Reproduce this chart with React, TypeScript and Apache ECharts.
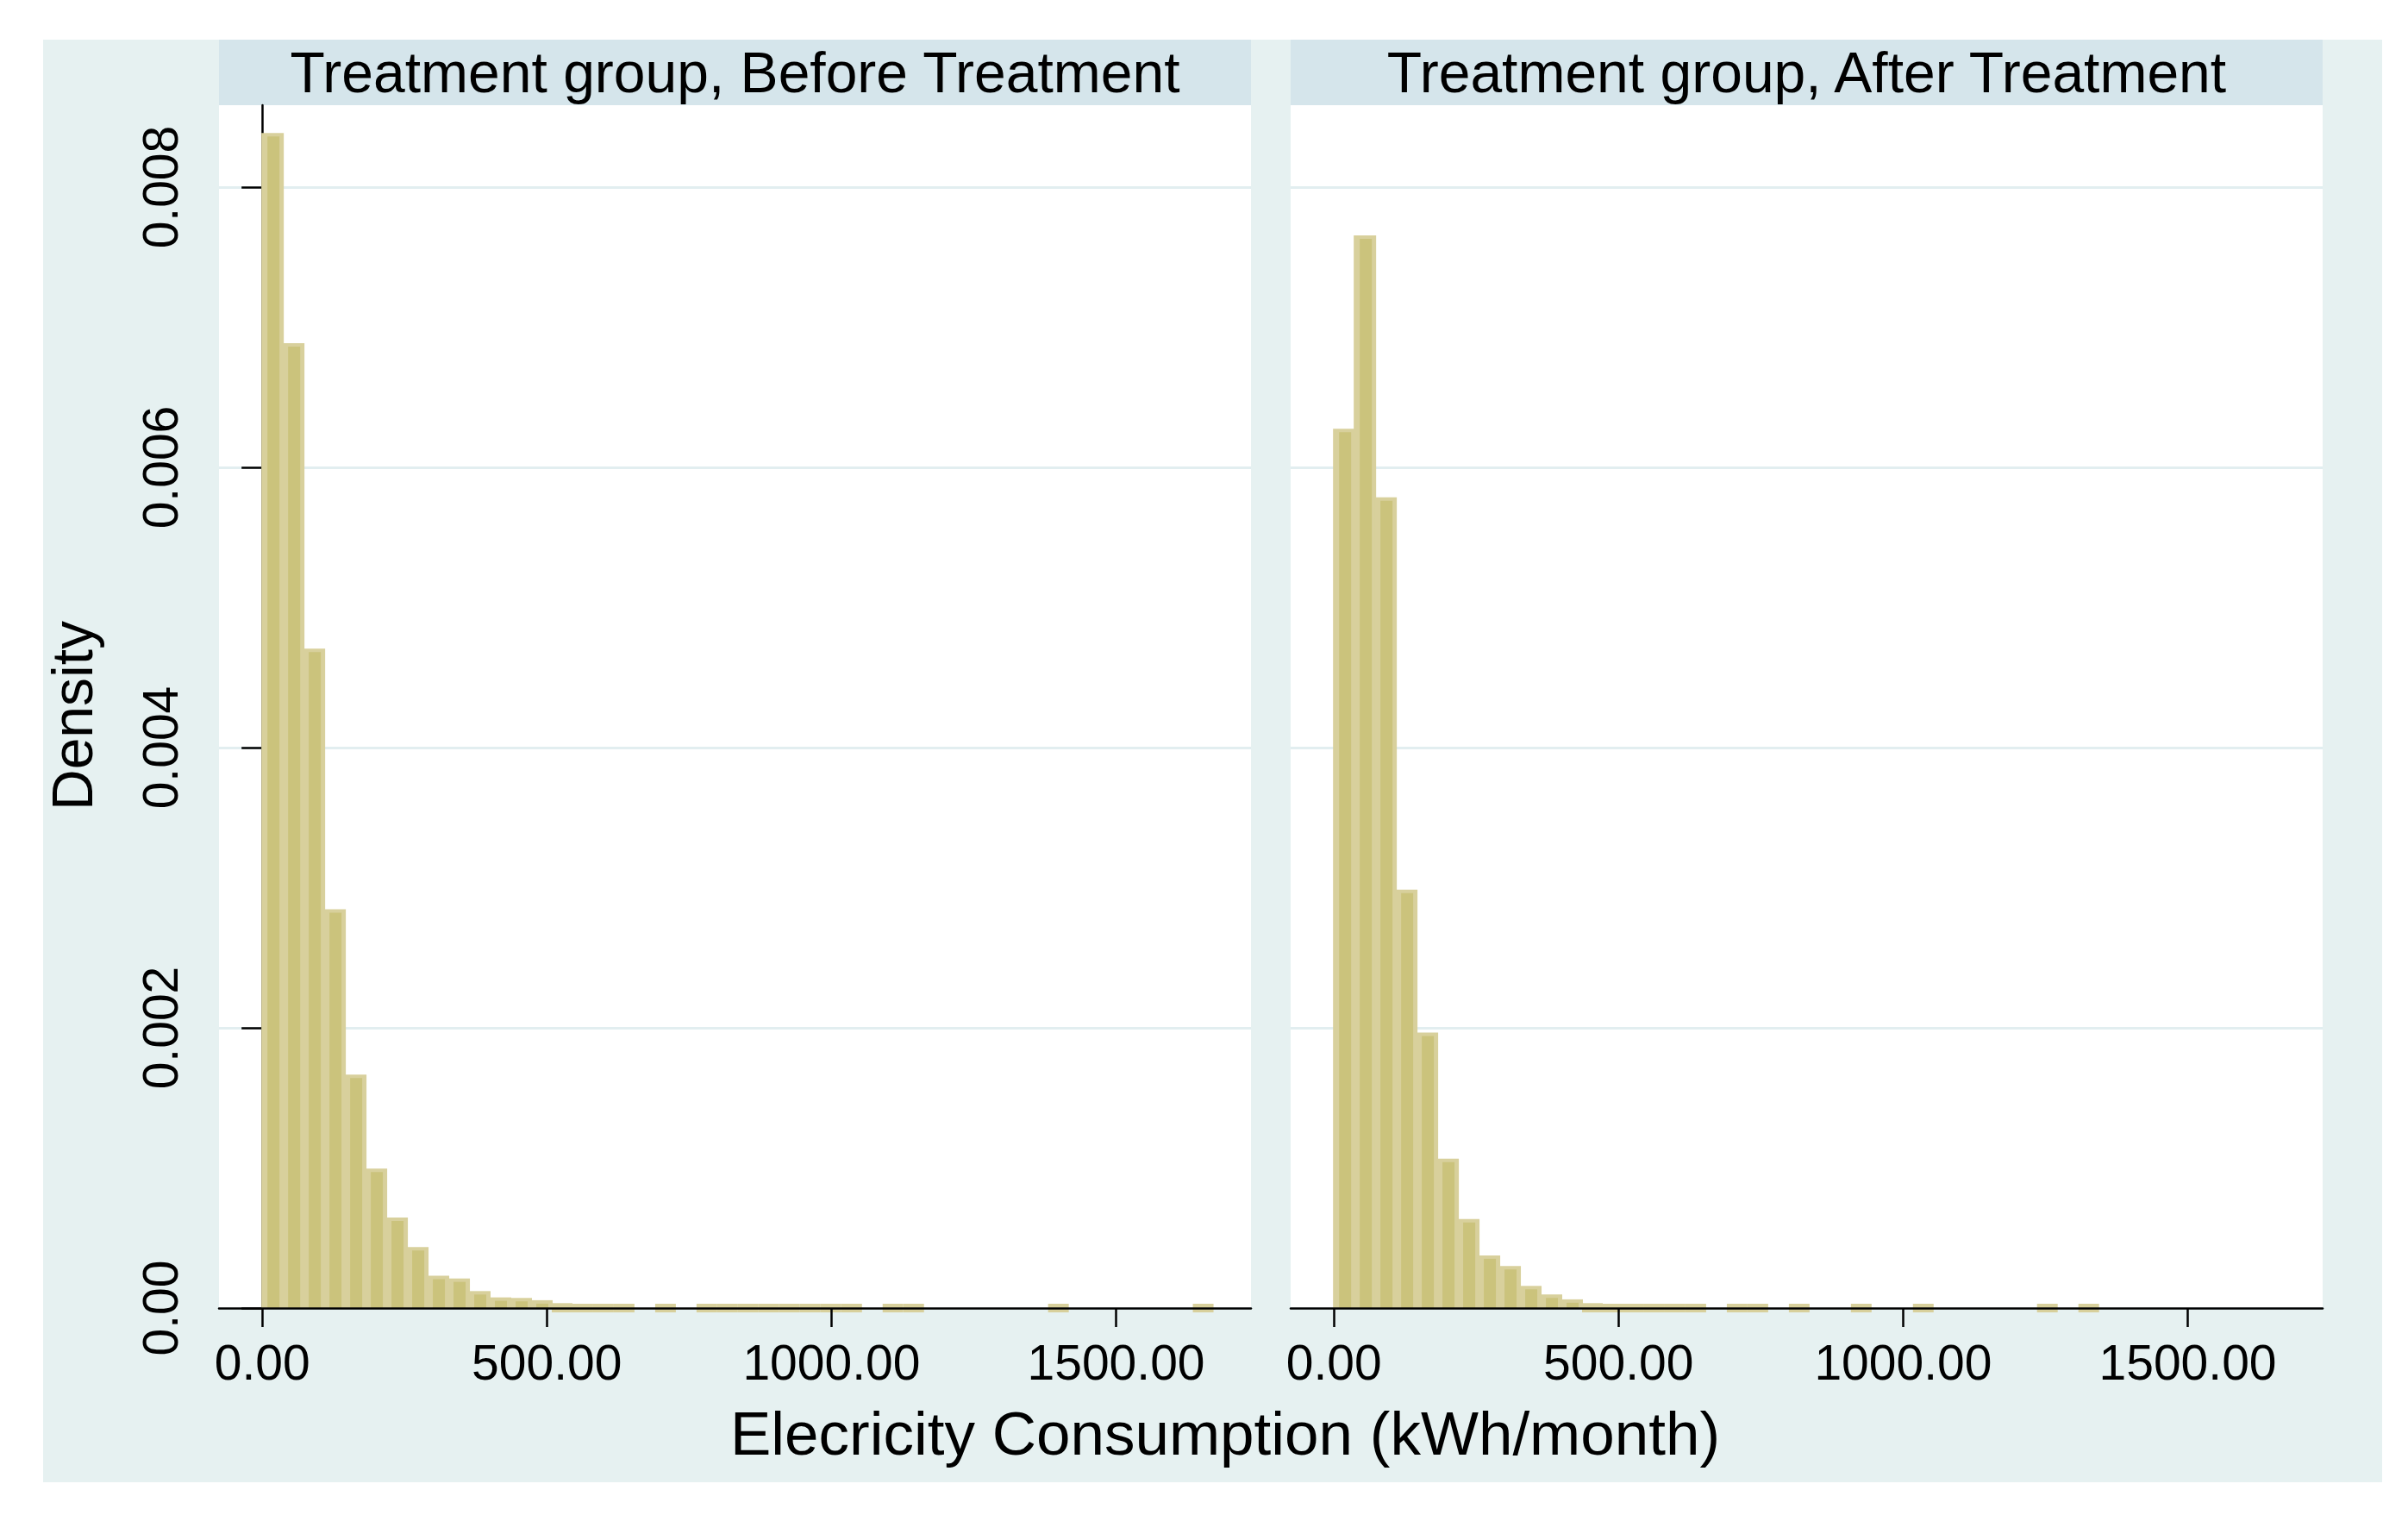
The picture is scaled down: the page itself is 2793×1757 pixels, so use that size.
import React, { useEffect, useRef } from "react";
import * as echarts from "echarts";

// ---- data ----
const BIN_WIDTH = 36.33; // kWh/month per histogram bin
const beforeDensity = [
  0.00838, 0.00688, 0.0047, 0.00284, 0.00166, 0.00099, 0.00064, 0.00043, 0.000225, 0.000205,
  0.000115, 0.00007, 0.000066, 0.00005, 0.000035, 0.000025, 0.00002, 0.00002, 0, 0.00002,
  0, 0.00001, 0.00001, 0.00001, 0.00001, 0.00001, 0.00001, 0.00001, 0.00001, 0,
  0.00001, 0.00001, 0, 0, 0, 0, 0, 0, 0.00001, 0,
  0, 0, 0, 0, 0, 0.00001,
];
const afterDensity = [
  0.00627, 0.00765, 0.00578, 0.00298, 0.00196, 0.00106, 0.00063, 0.00037, 0.000294, 0.000152,
  0.000091, 0.000056, 0.000035, 0.00003, 0.000025, 0.00002, 0.00001, 0.00001, 0, 0.00001,
  0.00001, 0, 0.00001, 0, 0, 0.00001, 0, 0, 0.00001, 0,
  0, 0, 0, 0, 0.00001, 0, 0.00001, 0, 0, 0,
  0, 0, 0, 0, 0, 0,
];
const xTickValues = [0, 500, 1000, 1500];
const xTickLabels = ["0.00", "500.00", "1000.00", "1500.00"];
const yTickValues = [0, 0.002, 0.004, 0.006, 0.008];
const yTickLabels = ["0.00", "0.002", "0.004", "0.006", "0.008"];
const panelTitles = ["Treatment group, Before Treatment", "Treatment group, After Treatment"];
const xTitle = "Elecricity Consumption (kWh/month)";
const yTitle = "Density";

const X_MIN = -76;
const X_MAX = 1737;
const Y_MAX = 0.008585;

// ---- styling ----
const FONT = "'Liberation Sans', Arial, Helvetica, sans-serif";
const LIGHT = "#d8d09c";
const DARK = "#cbc37c";
const STRIP = "#d5e5eb";
const OUTER = "#e6f1f1";
const GRIDLINE = "#e2eef0";

const GRID_TOP = 122;
const GRID_H = 1395;
const GRID_W = 1197;
const GRID_LEFTS = [254, 1497];

function toBins(arr: number[]) {
  const out: number[][] = [];
  arr.forEach((v, i) => {
    if (v > 0) out.push([i * BIN_WIDTH, (i + 1) * BIN_WIDTH, v]);
  });
  return out;
}

const renderBar = (params: any, api: any) => {
  const x0 = api.value(0);
  const x1 = api.value(1);
  const v = api.value(2);
  const tl = api.coord([x0, v]);
  const br = api.coord([x1, 0]);
  const left = tl[0];
  const right = br[0];
  const top = tl[1];
  const base = br[1];
  const h = base - top;
  const children: any[] = [];
  if (h < 6) {
    const t = Math.min(top, base - 5);
    children.push({
      type: "rect",
      shape: { x: left, y: t, width: right - left, height: base + 5 - t },
      style: { fill: LIGHT },
    });
  } else {
    children.push({
      type: "rect",
      shape: { x: left - 1, y: top - 1, width: right - left + 2, height: h + 1 },
      style: { fill: LIGHT },
    });
    children.push({
      type: "rect",
      shape: { x: left + 6, y: top + 3, width: right - left - 10, height: h - 3 },
      style: { fill: DARK },
    });
  }
  return { type: "group", children };
};

export default function App() {
  const ref = useRef<HTMLDivElement>(null);

  useEffect(() => {
    if (!ref.current) return;
    const chart = echarts.init(ref.current, undefined, { renderer: "svg" });

    const grids = GRID_LEFTS.map((l) => ({
      left: l,
      top: GRID_TOP,
      width: GRID_W,
      height: GRID_H,
      show: true,
      backgroundColor: "#ffffff",
      borderWidth: 0,
      containLabel: false,
    }));

    const xAxes = GRID_LEFTS.map((_, i) => ({
      type: "value",
      gridIndex: i,
      min: X_MIN,
      max: X_MAX,
      z: 5,
      axisLine: { show: true, onZero: false, lineStyle: { color: "#000", width: 2.5 } },
      axisTick: {
        show: true,
        length: 22,
        customValues: xTickValues,
        lineStyle: { color: "#000", width: 2.5 },
      },
      axisLabel: {
        show: true,
        customValues: xTickValues,
        formatter: (v: number) => {
          const k = xTickValues.indexOf(v);
          return k >= 0 ? xTickLabels[k] : "";
        },
        fontSize: 57,
        fontFamily: FONT,
        color: "#000",
        margin: 34,
      },
      splitLine: { show: false },
    }));

    const yAxes = GRID_LEFTS.map((_, i) => ({
      type: "value",
      gridIndex: i,
      min: 0,
      max: Y_MAX,
      interval: 0.002,
      z: 1,
      axisLine: { show: i === 0, lineStyle: { color: "#000", width: 2.5 } },
      axisTick: {
        show: i === 0,
        length: 24,
        customValues: yTickValues,
        lineStyle: { color: "#000", width: 2.5 },
      },
      axisLabel: {
        show: i === 0,
        customValues: yTickValues,
        rotate: 90,
        formatter: (v: number) => {
          const k = yTickValues.findIndex((t) => Math.abs(t - v) < 1e-9);
          return k >= 0 ? yTickLabels[k] : "";
        },
        fontSize: 57,
        fontFamily: FONT,
        color: "#000",
        margin: 40,
      },
      splitLine: {
        show: true,
        lineStyle: { color: GRIDLINE, width: 3 },
      },
    }));

    const datasets = [beforeDensity, afterDensity];
    const series = datasets.map((d, i) => ({
      type: "custom",
      xAxisIndex: i,
      yAxisIndex: i,
      clip: false,
      z: 3,
      renderItem: renderBar,
      encode: { x: [0, 1], y: 2 },
      data: toBins(d),
    }));

    const graphic: any[] = [];
    GRID_LEFTS.forEach((l, i) => {
      graphic.push({
        type: "rect",
        shape: { x: l, y: 46, width: GRID_W, height: GRID_TOP - 46 },
        style: { fill: STRIP },
        silent: true,
      });
      graphic.push({
        type: "text",
        x: l + GRID_W / 2,
        y: 84,
        style: {
          text: panelTitles[i],
          fontSize: 66,
          fontFamily: FONT,
          fill: "#000",
          align: "center",
          verticalAlign: "middle",
          textAlign: "center",
          textVerticalAlign: "middle",
        },
      });
    });
    graphic.push({
      type: "text",
      x: 1421,
      y: 1662,
      style: {
        text: xTitle,
        fontSize: 71,
        fontFamily: FONT,
        fill: "#000",
        align: "center",
        verticalAlign: "middle",
        textAlign: "center",
        textVerticalAlign: "middle",
      },
    });
    graphic.push({
      type: "text",
      x: 84,
      y: 830,
      rotation: Math.PI / 2,
      style: {
        text: yTitle,
        fontSize: 66,
        fontFamily: FONT,
        fill: "#000",
        align: "center",
        verticalAlign: "middle",
        textAlign: "center",
        textVerticalAlign: "middle",
      },
    });

    chart.setOption({
      animation: false,
      backgroundColor: "transparent",
      grid: grids,
      xAxis: xAxes,
      yAxis: yAxes,
      series,
      graphic,
    });

    return () => chart.dispose();
  }, []);

  return (
    <div
      style={{
        position: "absolute",
        left: 0,
        top: 0,
        width: 2793,
        height: 1757,
        background: "#ffffff",
        overflow: "hidden",
      }}
    >
      <div
        style={{
          position: "absolute",
          left: 50,
          top: 46,
          width: 2713,
          height: 1673,
          background: OUTER,
        }}
      />
      <div
        ref={ref}
        style={{ position: "absolute", left: 0, top: 0, width: 2793, height: 1757 }}
      />
    </div>
  );
}
